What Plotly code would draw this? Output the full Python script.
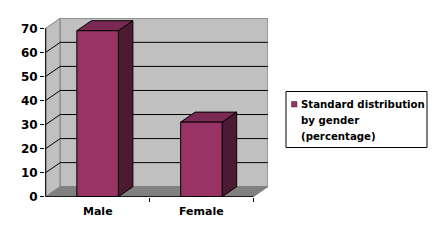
import plotly.graph_objects as go

# ---- data ----
categories = ["Male", "Female"]
values = [69, 31]
ytick_vals = [0, 10, 20, 30, 40, 50, 60, 70]
legend_lines = ["Standard distribution", "by gender", "(percentage)"]

# ---- style constants ----
W, H = 438, 242
ML, MR, MT, MB = 45, 170, 18, 45
PW, PH = W - ML - MR, H - MT - MB
FONT = "DejaVu Sans"
FRONT = "#993366"
TOP = "#7a2952"
SIDE = "#4d1a33"
WALL = "#c0c0c0"
FLOOR = "#808080"
EDGE = "#808080"
BAR_W = 0.4
DX = 0.14      # depth offset along x (axis units)
DY = 4.16      # depth offset along y (axis units)
YMAX = ytick_vals[-1]
x_lo, x_hi = -0.5, len(categories) - 0.5

def px_x(p):
    return (p - ML) / PW

def px_y(p):
    return (H - MB - p) / PH

def poly(pts):
    return "M " + " L ".join(f"{x},{y}" for x, y in pts) + " Z"

shapes = []
# left wall
shapes.append(dict(type="path", xref="x", yref="y", layer="below",
                   path=poly([(x_lo, 0), (x_lo + DX, DY), (x_lo + DX, YMAX + DY), (x_lo, YMAX)]),
                   fillcolor=WALL, line=dict(color=EDGE, width=1)))
# back wall
shapes.append(dict(type="rect", xref="x", yref="y", layer="below",
                   x0=x_lo + DX, x1=x_hi + DX, y0=DY, y1=YMAX + DY,
                   fillcolor=WALL, line=dict(color=EDGE, width=1)))
# floor
shapes.append(dict(type="path", xref="x", yref="y", layer="below",
                   path=poly([(x_lo, 0), (x_hi, 0), (x_hi + DX, DY), (x_lo + DX, DY)]),
                   fillcolor=FLOOR, line=dict(color=EDGE, width=1)))
# gridlines (back wall + left wall)
for v in ytick_vals[1:-1]:
    shapes.append(dict(type="line", xref="x", yref="y", layer="below",
                       x0=x_lo + DX, x1=x_hi + DX, y0=v + DY, y1=v + DY,
                       line=dict(color="black", width=1)))
    shapes.append(dict(type="line", xref="x", yref="y", layer="below",
                       x0=x_lo, x1=x_lo + DX, y0=v, y1=v + DY,
                       line=dict(color="black", width=1)))
# bar 3D faces
for i, v in enumerate(values):
    x0, x1 = i - BAR_W / 2, i + BAR_W / 2
    shapes.append(dict(type="path", xref="x", yref="y", layer="below",
                       path=poly([(x1, 0), (x1 + DX, DY), (x1 + DX, v + DY), (x1, v)]),
                       fillcolor=SIDE, line=dict(color="black", width=1)))
    shapes.append(dict(type="path", xref="x", yref="y", layer="below",
                       path=poly([(x0, v), (x1, v), (x1 + DX, v + DY), (x0 + DX, v + DY)]),
                       fillcolor=TOP, line=dict(color="black", width=1)))
# front axis lines
shapes.append(dict(type="line", xref="x", yref="y", layer="above",
                   x0=x_lo, x1=x_hi, y0=0, y1=0, line=dict(color="black", width=1)))
shapes.append(dict(type="line", xref="x", yref="y", layer="above",
                   x0=x_lo, x1=x_lo, y0=0, y1=YMAX, line=dict(color="black", width=1)))

# manual legend
shapes.append(dict(type="rect", xref="paper", yref="paper",
                   x0=px_x(286), x1=px_x(427), y0=px_y(147.5), y1=px_y(91.5),
                   fillcolor="white", line=dict(color="black", width=1)))
shapes.append(dict(type="rect", xref="paper", yref="paper",
                   x0=px_x(291.5), x1=px_x(297), y0=px_y(107), y1=px_y(101.5),
                   fillcolor=FRONT, line=dict(color="#333333", width=0.5)))

annotations = []
for k, line in enumerate(legend_lines):
    annotations.append(dict(xref="paper", yref="paper", x=px_x(298.5), y=px_y(104.5 + 16 * k),
                            xanchor="left", yanchor="middle", showarrow=False, text=line,
                            font=dict(family=FONT, size=10.2, color="black", weight="bold")))
for i, c in enumerate(categories):
    annotations.append(dict(xref="x", yref="paper", x=i, y=px_y(211.5),
                            xanchor="center", yanchor="middle", showarrow=False, text=c,
                            font=dict(family=FONT, size=11, color="black", weight="bold")))

fig = go.Figure()
fig.add_trace(go.Bar(x=list(range(len(categories))), y=values, width=BAR_W,
                     marker=dict(color=FRONT, line=dict(color="black", width=1)),
                     name=" ".join(legend_lines), showlegend=False, hoverinfo="skip"))

sx = 207.6 / 2
x_start = x_lo - 0.7 / sx
sy = 168.4 / YMAX
y_start = -0.3 / sy
fig.update_layout(
    width=W, height=H,
    margin=dict(l=ML, r=MR, t=MT, b=MB, pad=0),
    paper_bgcolor="white", plot_bgcolor="rgba(0,0,0,0)",
    showlegend=False,
    shapes=shapes, annotations=annotations,
    xaxis=dict(range=[x_start, x_start + PW / sx], showgrid=False, zeroline=False,
               showline=False, showticklabels=False,
               tickmode="array", tickvals=[0.5, 1.5], ticks="outside",
               ticklen=4, tickcolor="black", tickwidth=1),
    yaxis=dict(range=[y_start, y_start + PH / sy], showgrid=False, zeroline=False,
               showline=False, tickmode="array", tickvals=ytick_vals,
               ticks="outside", ticklen=4, tickcolor="black", tickwidth=1,
               tickfont=dict(family=FONT, size=12, color="black", weight="bold")),
)
fig.write_html("out.html")
